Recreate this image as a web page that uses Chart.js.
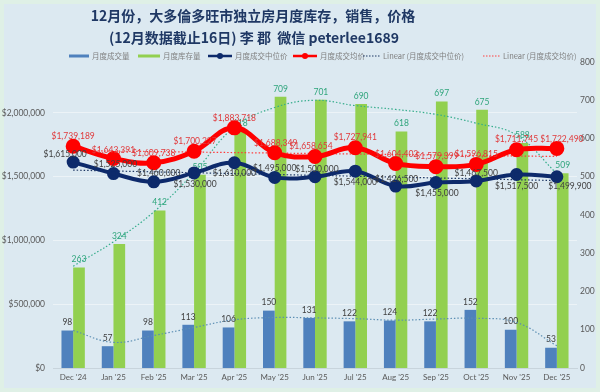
<!DOCTYPE html>
<html>
<head>
<meta charset="utf-8">
<script src="https://cdn.jsdelivr.net/npm/chart.js@4.4.1/dist/chart.umd.min.js"></script>
<style>
  html, body { margin: 0; padding: 0; background: #dff0e6; }
  canvas { display: block; }
</style>
</head>
<body>
<canvas id="chart" width="600" height="392"></canvas>
<script>
const months = ["Dec '24", "Jan '25", "Feb '25", "Mar '25", "Apr '25", "May '25", "Jun '25",
    "Jul '25", "Aug '25", "Sep '25", "Oct '25", "Nov '25", "Dec '25"];
const sales = [98, 57, 98, 113, 106, 150, 131, 122, 124, 122, 152, 100, 53];
const inventory = [263, 324, 412, 505, 618, 709, 701, 690, 618, 697, 675, 588, 509];
const medianPrice = [1615000, 1525000, 1460000, 1530000, 1610000, 1495000, 1500000,
    1544000, 1426500, 1455000, 1467500, 1517500, 1499900];
const avgPrice = [1739189, 1643391, 1609738, 1700227, 1883718, 1688349, 1658654,
    1727941, 1604402, 1579399, 1596815, 1711745, 1722490];
// trend curves
const salesTrend = [98, 67, 85, 106, 126, 132, 131, 129, 125, 128, 130, 119, 58];
const inventoryTrend = [266, 330, 408, 511, 630, 681, 700, 686, 676, 663, 640, 609, 508];
const medianTrend = [1552000, null, null, null, null, null, null, null, null, null, null, null, 1470000];
const avgTrend = [1705000, null, null, null, null, null, null, null, null, null, null, null, 1659000];
const leftTicks = [0, 500000, 1000000, 1500000, 2000000];

// label offsets (dx, dy) from each point
const medianLabelPos = [[-8, -8], [2, -9], [5, -9], [1, 11], [0, 11], [0, -9], [2, -7],
    [0, 11], [1, -7], [1, 11], [0, -8], [0, 12], [13, 10]];
const avgLabelPos = [[0, -10], [0, -8], [0, -9], [1, -10], [0, -10], [1, -9], [-4, -10],
    [0, -10], [1, -9], [1, -10], [0, -10], [0, -10], [5, -9]];

const money = v => '$' + v.toLocaleString('en-US');
const labelFont = '8.5px Lato, "Noto Sans", sans-serif';
const cjk = '"Noto Sans CJK SC", "Noto Sans", sans-serif';

const backdrop = {
    id: 'backdrop',
    beforeDraw(chart) {
        const ctx = chart.ctx;
        ctx.save();
        ctx.fillStyle = '#dff0e6';
        ctx.fillRect(0, 0, chart.width, chart.height);
        ctx.fillStyle = '#dce9f1';
        ctx.fillRect(4, 4, chart.width - 8, chart.height - 8);
        ctx.restore();
    }
};

// bar labels go under the lines, like the original
const barLabels = {
    id: 'barLabels',
    afterDatasetDraw(chart, args) {
        const ds = chart.data.datasets[args.index];
        if (!ds.labelColor) return;
        const ctx = chart.ctx;
        ctx.save();
        ctx.font = labelFont;
        ctx.fillStyle = ds.labelColor;
        ctx.textAlign = 'center';
        ctx.textBaseline = 'middle';
        args.meta.data.forEach((bar, i) => {
            ctx.fillText(ds.data[i], bar.x, bar.y - 8);
        });
        ctx.restore();
    }
};

const lineLabels = {
    id: 'lineLabels',
    afterDatasetsDraw(chart) {
        const ctx = chart.ctx;
        ctx.save();
        ctx.font = labelFont;
        ctx.textAlign = 'center';
        ctx.textBaseline = 'middle';
        chart.data.datasets.forEach((ds, di) => {
            if (!ds.labelPos) return;
            ctx.fillStyle = ds.priceLabelColor;
            chart.getDatasetMeta(di).data.forEach((pt, i) => {
                const p = ds.labelPos[i];
                ctx.fillText(money(ds.data[i]), pt.x + p[0], pt.y + p[1]);
            });
        });
        ctx.restore();
    }
};

const header = {
    id: 'header',
    afterDraw(chart) {
        const ctx = chart.ctx;
        ctx.save();
        ctx.fillStyle = '#1f3864';
        ctx.textAlign = 'center';
        ctx.textBaseline = 'middle';
        ctx.font = 'bold 14px ' + cjk;
        ctx.fillText('12月份，大多倫多旺市独立房月度库存，销售，价格', 253, 16);
        ctx.fillText('(12月数据截止16日) 李 郡  微信 peterlee1689', 254, 38);

        // legend
        const y = 56;
        ctx.font = '7.5px ' + cjk;
        ctx.textAlign = 'left';
        const text = (s, x) => { ctx.fillStyle = '#7f7f7f'; ctx.fillText(s, x, y); };
        ctx.fillStyle = '#4f81bd';
        ctx.fillRect(69, y - 1.5, 20, 3);
        text('月度成交量', 92);
        ctx.fillStyle = '#92d050';
        ctx.fillRect(138, y - 1.5, 22, 3);
        text('月度库存量', 163);
        const lineItem = (x0, x1, color, w) => {
            ctx.strokeStyle = color;
            ctx.lineWidth = w;
            ctx.beginPath(); ctx.moveTo(x0, y); ctx.lineTo(x1, y); ctx.stroke();
            ctx.fillStyle = color;
            ctx.beginPath(); ctx.arc((x0 + x1) / 2, y, 3, 0, Math.PI * 2); ctx.fill();
        };
        lineItem(208, 232, '#0d2a6b', 2.5);
        text('月度成交中位价', 235);
        lineItem(293, 317, '#ff0000', 2.5);
        text('月度成交均价', 320);
        const dotItem = (x0, x1, color) => {
            ctx.strokeStyle = color;
            ctx.lineWidth = 1;
            ctx.setLineDash([1.5, 1.5]);
            ctx.beginPath(); ctx.moveTo(x0, y); ctx.lineTo(x1, y); ctx.stroke();
            ctx.setLineDash([]);
        };
        dotItem(363, 380, '#1f3864');
        text('Linear (月度成交中位价)', 383);
        dotItem(483, 500, '#ff4040');
        text('Linear (月度成交均价)', 503);
        ctx.restore();
    }
};

new Chart(document.getElementById('chart'), {
    data: {
        labels: months,
        datasets: [
            {
                type: 'line', data: medianPrice, yAxisID: 'y', order: 1,
                borderColor: '#0d2a6b', borderWidth: 4, tension: 0.4,
                pointRadius: 4.5, pointBackgroundColor: '#0d2a6b', pointBorderColor: '#0d2a6b',
                labelPos: medianLabelPos, priceLabelColor: '#404040'
            },
            {
                type: 'line', data: avgPrice, yAxisID: 'y', order: 0,
                borderColor: '#ff0000', borderWidth: 5, tension: 0.4,
                pointRadius: 5, pointBackgroundColor: '#ff0000', pointBorderColor: '#ff0000',
                labelPos: avgLabelPos, priceLabelColor: '#e0393b'
            },
            {
                type: 'line', data: medianTrend, yAxisID: 'y', order: 2, spanGaps: true,
                borderColor: '#1f3864', borderWidth: 1.2, borderDash: [1.5, 2], pointRadius: 0
            },
            {
                type: 'line', data: avgTrend, yAxisID: 'y', order: 2, spanGaps: true,
                borderColor: '#ff3b3b', borderWidth: 1.2, borderDash: [1.5, 2], pointRadius: 0
            },
            {
                type: 'line', data: salesTrend, yAxisID: 'y1', order: 3, tension: 0.4,
                borderColor: '#5b8eb3', borderWidth: 1.2, borderDash: [1.5, 2], pointRadius: 0
            },
            {
                type: 'line', data: inventoryTrend, yAxisID: 'y1', order: 3, tension: 0.4,
                borderColor: '#36ad8c', borderWidth: 1.2, borderDash: [1.5, 2], pointRadius: 0
            },
            {
                type: 'bar', data: sales, yAxisID: 'y1', order: 10,
                backgroundColor: '#4f81bd', labelColor: '#404040',
                categoryPercentage: 0.58, barPercentage: 1.0
            },
            {
                type: 'bar', data: inventory, yAxisID: 'y1', order: 10,
                backgroundColor: '#92d050', labelColor: '#2fa57c',
                categoryPercentage: 0.58, barPercentage: 1.0
            }
        ]
    },
    options: {
        responsive: false,
        animation: false,
        layout: { padding: { top: 62, left: 0, right: 0, bottom: 0 } },
        plugins: {
            legend: { display: false },
            title: { display: false },
            tooltip: { enabled: false }
        },
        scales: {
            x: {
                offset: true,
                grid: { display: false, drawTicks: false },
                border: { color: '#c8d4dc' },
                ticks: { color: '#595959', font: { size: 8, family: 'Lato' }, padding: 5, maxRotation: 0, autoSkip: false },
                afterFit: s => { s.height = 24; }
            },
            y: {
                position: 'left', min: 0, max: 2400000,
                afterBuildTicks: s => { s.ticks = leftTicks.map(v => ({ value: v })); },
                grid: { color: 'rgba(255,255,255,0.45)', drawTicks: false },
                border: { display: false },
                ticks: { color: '#595959', font: { size: 8.5, family: 'Lato' }, padding: 8, callback: v => money(v) },
                afterFit: s => { s.width = 53; }
            },
            y1: {
                position: 'right', min: 0, max: 800,
                grid: { display: false, drawTicks: false },
                border: { display: false },
                ticks: { stepSize: 100, color: '#595959', font: { size: 8.5, family: 'Lato' }, padding: 3 },
                afterFit: s => { s.width = 23; }
            }
        }
    },
    plugins: [backdrop, barLabels, lineLabels, header]
});
</script>
</body>
</html>
